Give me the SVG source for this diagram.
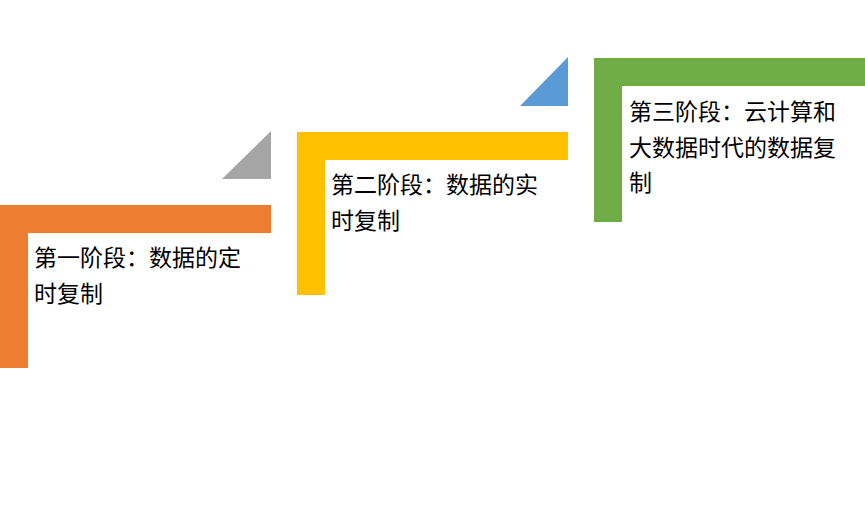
<svg xmlns="http://www.w3.org/2000/svg" width="865" height="505" viewBox="0 0 865 505">
<style>
.t{font-family:"Noto Sans CJK SC","Microsoft YaHei",sans-serif;font-size:23px;fill:#000}
</style>
<rect width="865" height="505" fill="#fff"/>
<g id="stage1">
<path d="M0,205 H271 V233 H28 V368 H0 Z" fill="#ED7D31"/>
<polygon points="222,179 271,131 271,179" fill="#A5A5A5"/>
<text class="t" x="34" y="266">第一阶段：数据的定</text>
<text class="t" x="34" y="302">时复制</text>
</g>
<g id="stage2">
<path d="M297,132 H568 V160 H325 V295 H297 Z" fill="#FFC000"/>
<polygon points="520,106 568,57 568,106" fill="#5B9BD5"/>
<text class="t" x="331" y="193">第二阶段：数据的实</text>
<text class="t" x="331" y="229">时复制</text>
</g>
<g id="stage3">
<path d="M594,58 H865 V86 H622 V222 H594 Z" fill="#70AD47"/>
<text class="t" x="629" y="120">第三阶段：云计算和</text>
<text class="t" x="629" y="156">大数据时代的数据复</text>
<text class="t" x="629" y="191">制</text>
</g>
<g id="connectors"></g>
</svg>
